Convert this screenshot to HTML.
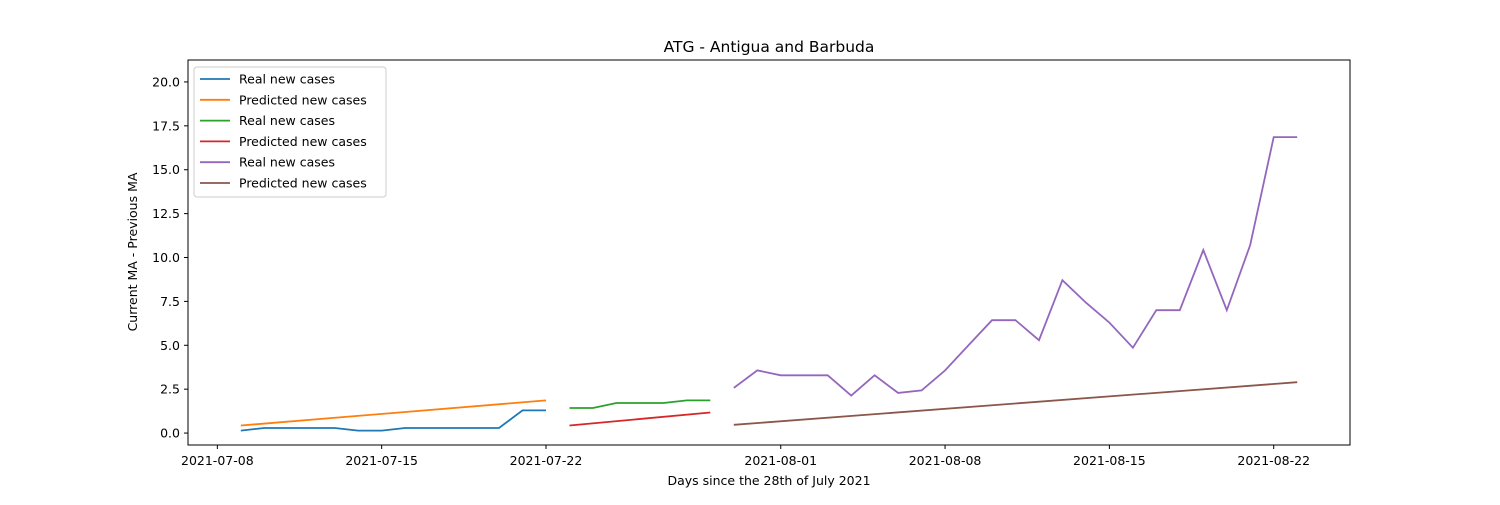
<!DOCTYPE html>
<html><head><meta charset="utf-8"><style>
body{margin:0;background:#fff;font-family:"Liberation Sans","DejaVu Sans",sans-serif;}
svg text{font-family:"DejaVu Sans","Liberation Sans",sans-serif;}
</style></head><body>
<svg id="chart" width="1500" height="500" xmlns="http://www.w3.org/2000/svg"></svg>
<script>
const xTickLabels=["2021-07-08","2021-07-15","2021-07-22","2021-08-01","2021-08-08","2021-08-15","2021-08-22"];
const yTickLabels=["0.0","2.5","5.0","7.5","10.0","12.5","15.0","17.5","20.0"];
const realDates1=["2021-07-09","2021-07-10","2021-07-11","2021-07-12","2021-07-13","2021-07-14","2021-07-15","2021-07-16","2021-07-17","2021-07-18","2021-07-19","2021-07-20","2021-07-21","2021-07-22"];
const realVals1=[0.14,0.29,0.29,0.29,0.29,0.14,0.14,0.29,0.29,0.29,0.29,0.29,1.29,1.29];
const predDates1=["2021-07-09","2021-07-22"];
const predVals1=[0.43,1.86];
const realDates2=["2021-07-23","2021-07-24","2021-07-25","2021-07-26","2021-07-27","2021-07-28","2021-07-29"];
const realVals2=[1.43,1.43,1.71,1.71,1.71,1.86,1.86];
const predDates2=["2021-07-23","2021-07-29"];
const predVals2=[0.43,1.17];
const realDates3=["2021-07-30","2021-07-31","2021-08-01","2021-08-02","2021-08-03","2021-08-04","2021-08-05","2021-08-06","2021-08-07","2021-08-08","2021-08-09","2021-08-10","2021-08-11","2021-08-12","2021-08-13","2021-08-14","2021-08-15","2021-08-16","2021-08-17","2021-08-18","2021-08-19","2021-08-20","2021-08-21","2021-08-22","2021-08-23"];
const realVals3=[2.57,3.57,3.29,3.29,3.29,2.14,3.29,2.29,2.43,3.57,5.0,6.43,6.43,5.29,8.71,7.43,6.29,4.86,7.0,7.0,10.43,7.0,10.71,16.86,16.86];
const predDates3=["2021-07-30","2021-08-23"];
const predVals3=[0.47,2.9];

const svg=document.getElementById('chart');
const NS='http://www.w3.org/2000/svg';
const L=188,R=1350,T=60,B=445;
const day0=Date.UTC(2021,6,8);
function dayOf(s){const p=s.split('-');return (Date.UTC(+p[0],+p[1]-1,+p[2])-day0)/86400000;}
const xmin=-1.25,xmax=48.25,ymin=-0.68,ymax=21.25;
function X(s){return L+(dayOf(s)-xmin)/(xmax-xmin)*(R-L);}
function Y(v){return B-(v-ymin)/(ymax-ymin)*(B-T);}
function el(tag,attrs,txt){const e=document.createElementNS(NS,tag);for(const k in attrs)e.setAttribute(k,attrs[k]);if(txt!=null)e.textContent=txt;svg.appendChild(e);return e;}

const title=el('text',{x:769,y:52,'text-anchor':'middle','font-size':15.5},'ATG - Antigua and Barbuda');



xTickLabels.forEach(t=>{const x=X(t);
 const tk=el('line',{x1:x,x2:x,y1:B,y2:B+4,stroke:'#000'});
 
 
 const lb=el('text',{x:x,y:B+20,'text-anchor':'middle','font-size':12.5},t);
 
 
});
yTickLabels.forEach(t=>{const y=Y(parseFloat(t));
 const tk=el('line',{x1:L-4,x2:L,y1:y,y2:y,stroke:'#000'});
 
 
 const lb=el('text',{x:L-8,y:y+4.5,'text-anchor':'end','font-size':12.5},t);
 
 
});
const xt=el('text',{x:769,y:485,'text-anchor':'middle','font-size':12.5},'Days since the 28th of July 2021');


const yt=el('text',{x:0,y:0,'text-anchor':'middle','font-size':12.5,transform:'translate(137,252) rotate(-90)'},'Current MA - Previous MA');



const series=[
 [realDates1,realVals1,'#1f77b4','Real new cases'],
 [predDates1,predVals1,'#ff7f0e','Predicted new cases'],
 [realDates2,realVals2,'#2ca02c','Real new cases'],
 [predDates2,predVals2,'#d62728','Predicted new cases'],
 [realDates3,realVals3,'#9467bd','Real new cases'],
 [predDates3,predVals3,'#8c564b','Predicted new cases']];
series.forEach((s,i)=>{
 const pts=s[0].map((d,j)=>X(d).toFixed(1)+','+Y(s[1][j]).toFixed(1)).join(' ');
 const pl=el('polyline',{points:pts,fill:'none',stroke:s[2],'stroke-width':1.8});
 
 
});
const frame=el('rect',{x:L,y:T,width:R-L,height:B-T,fill:'none',stroke:'#000','stroke-width':1});



const lg=el('rect',{x:194,y:67,width:192,height:130,rx:3,fill:'#fff','fill-opacity':0.8,stroke:'#ccc'});


series.forEach((s,i)=>{const y=79+i*20.8;
 const ln=el('line',{x1:200,x2:230,y1:y,y2:y,stroke:s[2],'stroke-width':1.8});
 
 
 const tx=el('text',{x:239,y:y+4.5,'font-size':12.5},s[3]);
 
 
});
</script>
</body></html>
